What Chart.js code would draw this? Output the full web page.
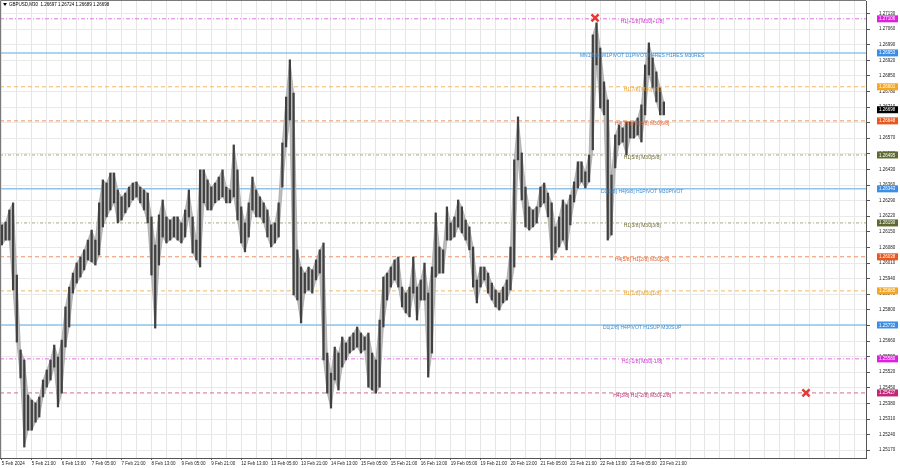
<!DOCTYPE html>
<html><head><meta charset="utf-8">
<script src="https://cdn.jsdelivr.net/npm/chart.js@4.4.1/dist/chart.umd.min.js"></script>
<style>html,body{margin:0;padding:0;background:#fff;}canvas{display:block;}</style>
</head><body>
<canvas id="c" width="900" height="468"></canvas>
<script>
// ---- DATA (GBPUSD, 2-hour high/low) ----
const highs = [
1.26181,1.26194,1.26248,1.26280,1.25956,1.25620,1.25575,1.25418,1.25395,1.25382,
1.25409,1.25485,1.25530,1.25575,1.25642,1.25588,1.25664,1.25813,1.25902,1.25965,
1.26010,1.26037,1.26069,1.26113,1.26158,1.26113,1.26280,1.26383,1.26369,1.26414,
1.26414,1.26338,1.26307,1.26324,1.26351,1.26369,1.26374,1.26351,1.26338,1.26324,
1.26217,1.26091,1.26226,1.26293,1.26217,1.26203,1.26217,1.26217,1.26190,1.26248,
1.26338,1.26217,1.26113,1.26428,1.26428,1.26383,1.26351,1.26369,1.26396,1.26428,
1.26351,1.26338,1.26540,1.26428,1.26262,1.26190,1.26280,1.26396,1.26338,1.26307,
1.26280,1.26248,1.26181,1.26190,1.26280,1.26549,1.26755,1.26922,1.26773,1.26069,
1.25992,1.25965,1.25992,1.25979,1.26024,1.26069,1.26100,1.25606,1.25516,1.25633,
1.25606,1.25678,1.25651,1.25678,1.25696,1.25723,1.25696,1.25678,1.25696,1.25606,
1.25575,1.25754,1.25947,1.25965,1.25992,1.26024,1.26037,1.25902,1.25875,1.25902,
1.26037,1.25902,1.25934,1.26010,1.25875,1.25992,1.26235,1.26082,1.26069,1.26262,
1.26190,1.26217,1.26293,1.26262,1.26203,1.26172,1.26082,1.25934,1.25992,1.25992,
1.25965,1.25920,1.25889,1.25875,1.25902,1.25934,1.26082,1.26473,1.26666,1.26504,
1.26351,1.26262,1.26248,1.26262,1.26351,1.26369,1.26324,1.26280,1.26172,1.26217,
1.26293,1.26271,1.26315,1.26374,1.26464,1.26464,1.26419,1.26495,1.27034,1.27088,
1.26975,1.26823,1.26742,1.26405,1.26585,1.26630,1.26616,1.26643,1.26643,1.26643,
1.26661,1.26720,1.26899,1.26998,1.26931,1.26868,1.26796,1.26733];
const lows = [
1.26091,1.26113,1.26113,1.25889,1.25655,1.25494,1.25184,1.25260,1.25260,1.25296,
1.25319,1.25409,1.25453,1.25485,1.25543,1.25364,1.25426,1.25633,1.25723,1.25875,
1.25920,1.25947,1.25979,1.26024,1.26015,1.26001,1.26046,1.26172,1.26217,1.26248,
1.26280,1.26190,1.26203,1.26235,1.26262,1.26293,1.26307,1.26280,1.26248,1.26190,
1.25956,1.25718,1.26001,1.26127,1.26100,1.26113,1.26127,1.26113,1.26100,1.26127,
1.26217,1.26055,1.26024,1.25992,1.26280,1.26248,1.26248,1.26280,1.26293,1.26307,
1.26280,1.26280,1.26307,1.26203,1.26100,1.26060,1.26127,1.26248,1.26217,1.26217,
1.26190,1.26127,1.26082,1.26100,1.26127,1.26351,1.26531,1.26652,1.25867,1.25844,
1.25741,1.25875,1.25889,1.25875,1.25934,1.25965,1.25575,1.25426,1.25359,1.25485,
1.25440,1.25543,1.25575,1.25606,1.25620,1.25633,1.25606,1.25620,1.25453,1.25440,
1.25426,1.25453,1.25723,1.25844,1.25902,1.25934,1.25902,1.25813,1.25786,1.25768,
1.25875,1.25754,1.25844,1.25844,1.25498,1.25606,1.25947,1.25965,1.25965,1.26113,
1.26113,1.26127,1.26172,1.26145,1.26113,1.26069,1.25902,1.25831,1.25902,1.25934,
1.25875,1.25844,1.25813,1.25799,1.25831,1.25844,1.25889,1.25992,1.26473,1.26293,
1.26172,1.26158,1.26172,1.26190,1.26262,1.26280,1.26217,1.26024,1.26055,1.26082,
1.26113,1.26069,1.26181,1.26284,1.26347,1.26374,1.26347,1.26374,1.26518,1.26899,
1.26706,1.26675,1.26113,1.26136,1.26437,1.26540,1.26553,1.26495,1.26571,1.26571,
1.26585,1.26553,1.26675,1.26854,1.26796,1.26733,1.26675,1.26675];
const timeLabels = ["5 Feb 2024","5 Feb 21:00","6 Feb 13:00","7 Feb 05:00","7 Feb 21:00","8 Feb 13:00",
"9 Feb 05:00","9 Feb 21:00","12 Feb 13:00","13 Feb 05:00","13 Feb 21:00","14 Feb 13:00","15 Feb 05:00",
"15 Feb 21:00","16 Feb 13:00","19 Feb 05:00","19 Feb 21:00","20 Feb 13:00","21 Feb 05:00","21 Feb 21:00",
"22 Feb 13:00","23 Feb 05:00","23 Feb 21:00"];
const priceTicks = [1.25170,1.25240,1.25310,1.25380,1.25450,1.25520,1.25590,1.25660,1.25730,1.25800,
1.25870,1.25940,1.26010,1.26080,1.26150,1.26220,1.26290,1.26360,1.26430,1.26500,1.26570,1.26640,
1.26710,1.26780,1.26850,1.26920,1.26990,1.27060,1.27130];
const levelValues = [1.27106,1.26953,1.26801,1.26648,1.26495,1.26343,1.26190,1.26038,1.25885,1.25732,1.25580,1.25427];
const levelTexts = ["H1[+1/8] M30[+1/8]","MN1[8/8] W1PIVOT D1PIVOT H4RES H1RES M30RES","H1[7/8] M30[7/8]",
"H4[7/8] H1[6/8] M30[6/8]","H1[5/8] M30[5/8]","D1[3/8] H4[6/8] H1PIVOT M30PIVOT","H1[3/8] M30[3/8]",
"H4[5/8] H1[2/8] M30[2/8]","H1[1/8] M30[1/8]","D1[2/8] H4PIVOT H1SUP M30SUP","H1[-1/8] M30[-1/8]",
"H4[3/8] H1[-2/8] M30[-2/8]"];
const levelKinds = ["magenta","blue","orange","red","olive","blue","olive","red","orange","blue","magenta","crimson"];
const lastPrice = 1.26698;
const headerText = "GBPUSD,M30  1.26697 1.26724 1.26689 1.26698";
const markerIdx = [158.6, 215];
const markerPrice = [1.27110, 1.25427];

// ---- STYLES ----
const kindStyle = {
  magenta:{line:'#e46fe4', text:'#cc33cc', box:'#e020e0', dash:[4,2,1,2], w:1},
  blue:{line:'#92c4ea', text:'#3b8ad0', box:'#3a8ee6', dash:[], w:1.5},
  orange:{line:'#f2b860', text:'#e89e2a', box:'#f5a623', dash:[4,3], w:1},
  red:{line:'#ee9060', text:'#e0602a', box:'#e8571e', dash:[4,3], w:1},
  olive:{line:'#aaa87c', text:'#6d6d38', box:'#5e6b30', dash:[3,2,1,2], w:1},
  crimson:{line:'#cc7094', text:'#b03070', box:'#c2277a', dash:[4,3], w:1}
};
const FONT = '"Liberation Sans", Arial, sans-serif';
const X_MIN = -0.5, X_MAX = 231.05;

const candles = highs.map((h,i)=>({x:i, y:[lows[i], h]}));
const highPts = highs.map((h,i)=>({x:i, y:h}));
const lowPts = lows.map((l,i)=>({x:i, y:l}));
const levelSets = levelValues.map((v,k)=>({
  type:'line', data:[{x:X_MIN,y:v},{x:X_MAX,y:v}], borderColor:kindStyle[levelKinds[k]].line,
  borderWidth:kindStyle[levelKinds[k]].w, borderDash:kindStyle[levelKinds[k]].dash,
  pointRadius:0, fill:false, order:4
}));

const overlay = {
  id:'overlay',
  afterDatasetsDraw(chart){
    const ctx=chart.ctx, xs=chart.scales.x, ys=chart.scales.y;
    ctx.save();
    ctx.font='5px '+FONT; ctx.textAlign='center'; ctx.textBaseline='middle';
    const tx = xs.getPixelForValue(171.2);
    levelValues.forEach((v,k)=>{
      ctx.fillStyle=kindStyle[levelKinds[k]].text;
      ctx.fillText(levelTexts[k], tx, ys.getPixelForValue(v)+2.5);
    });
    ctx.restore();
  },
  afterDraw(chart){
    const ctx=chart.ctx, ys=chart.scales.y, ca=chart.chartArea;
    ctx.save();
    ctx.strokeStyle='#7a7a7a'; ctx.lineWidth=1;
    ctx.beginPath(); ctx.moveTo(0.5,ca.bottom); ctx.lineTo(0.5,0.5); ctx.lineTo(ca.right,0.5); ctx.stroke();
    ctx.fillStyle='#000';
    ctx.beginPath(); ctx.moveTo(3,3); ctx.lineTo(7,3); ctx.lineTo(5,6); ctx.closePath(); ctx.fill();
    ctx.font='4.5px '+FONT; ctx.textAlign='left'; ctx.textBaseline='middle';
    ctx.fillText(headerText, 9, 4.8);
    const bx = ca.right+11, bw=21, bh=7;
    const boxes = levelValues.map((v,k)=>({v, c:kindStyle[levelKinds[k]].box}));
    boxes.push({v:lastPrice, c:'#000'});
    boxes.forEach(b=>{
      const y=ys.getPixelForValue(b.v);
      ctx.fillStyle=b.c; ctx.fillRect(bx, y-bh/2, bw, bh);
      ctx.fillStyle='#fff'; ctx.fillText(b.v.toFixed(5), bx+2, y+0.3);
    });
    ctx.restore();
  }
};

new Chart(document.getElementById('c'), {
  type:'bar',
  data:{datasets:[
    {type:'scatter', data:markerIdx.map((x,i)=>({x, y:markerPrice[i]})), pointStyle:'crossRot',
     pointRadius:5, borderColor:'#e53935', backgroundColor:'#e53935', pointBorderWidth:2.5, borderWidth:2.5, order:0},
    {type:'bar', data:candles, backgroundColor:'#404040', barThickness:1.6, borderWidth:0, order:1},
    {type:'line', data:highPts, borderColor:'#a0a0a0', borderWidth:0.7, pointRadius:0, tension:0, fill:false, order:2},
    {type:'line', data:lowPts, borderColor:'#a0a0a0', borderWidth:0.7, pointRadius:0, tension:0,
     fill:'-1', backgroundColor:'#bdbdbd', order:3},
    ...levelSets
  ]},
  options:{
    responsive:false, animation:false, devicePixelRatio:1,
    layout:{autoPadding:false, padding:{top:1,left:0,right:0,bottom:0}},
    plugins:{legend:{display:false}, tooltip:{enabled:false}, filler:{propagate:false}},
    scales:{
      x:{type:'linear', min:X_MIN, max:X_MAX, offset:false,
        afterBuildTicks(s){ const t=[]; for(let v=0; v<=228; v+=4) t.push({value:v}); s.ticks=t; },
        afterFit(s){ s.height=10; s.paddingLeft=0; s.paddingRight=0; },
        grid:{offset:false, color:'#e6e6e6', lineWidth:1, drawTicks:true, tickLength:2,
          tickColor:(c)=> (c.tick && c.tick.value%8===0 && c.tick.value<=176) ? '#666' : 'rgba(0,0,0,0)'},
        border:{display:true, color:'#555'},
        ticks:{autoSkip:false, maxRotation:0, minRotation:0, align:'start', padding:1,
          font:{family:FONT, size:4.5}, color:'#222',
          callback:(v)=> (v%8===0 && v/8 < timeLabels.length) ? timeLabels[v/8] : ''}
      },
      y:{position:'right', min:1.25135, max:1.27186,
        afterBuildTicks(s){ s.ticks = priceTicks.map(v=>({value:v})); },
        afterFit(s){ s.width=34; s.paddingTop=0; s.paddingBottom=0; },
        grid:{color:'#e9e9e9', lineWidth:1, tickLength:4, tickColor:'#555'},
        border:{display:true, color:'#555'},
        ticks:{padding:9, font:{family:FONT, size:4.5}, color:'#222', callback:(v)=>Number(v).toFixed(5)}
      }
    }
  },
  plugins:[overlay]
});
</script>
</body></html>
